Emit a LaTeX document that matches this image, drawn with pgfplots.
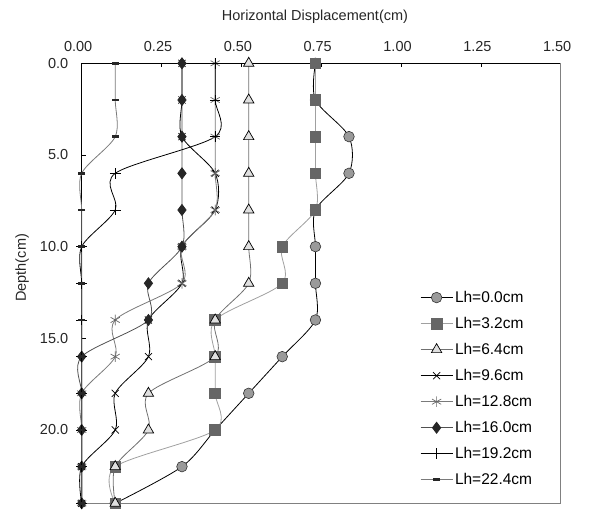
\documentclass[border=0pt]{standalone}
\usepackage{fontspec}
\setmainfont{Liberation Sans}
\usepackage{pgfplots}
\pgfplotsset{compat=1.18}
\definecolor{cfill}{HTML}{9A9A9A}
\definecolor{sfill}{HTML}{666666}
\definecolor{sline}{HTML}{A0A0A0}
\definecolor{tfill}{HTML}{E0E0E0}
\definecolor{tline}{HTML}{707070}
\definecolor{aline}{HTML}{7A7A7A}
\definecolor{dline}{HTML}{505050}
\definecolor{frame}{HTML}{808080}
\begin{document}
\begin{tikzpicture}
\begin{axis}[
  scale only axis, width=479pt, height=440pt,
  xmin=0, xmax=1.5, ymin=0, ymax=24,
  y dir=reverse, clip=false,
  axis line style={draw=none},
  xtick={0,0.25,0.5,0.75,1,1.25,1.5},
  xticklabels={0.00,0.25,0.50,0.75,1.00,1.25,1.50},
  ytick={0,5,10,15,20},
  yticklabels={0.0,5.0,10.0,15.0,20.0},
  xtick pos=right, ytick pos=left,
  xticklabel pos=right, yticklabel pos=left,
  tick align=inside, major tick length=4pt,
  tick style={black, line width=0.6pt},
  ticklabel style={font=\fontsize{14.5}{17}\selectfont, text=black!85},
  xticklabel style={xshift=-3.5pt, yshift=8pt},
  yticklabel style={xshift=-10pt},
  xlabel={Horizontal Displacement(cm)},
  ylabel={Depth(cm)},
  every axis x label/.style={at={(axis description cs:0.487,1.1052)}, anchor=center, font=\fontsize{14.5}{17}\selectfont, text=black!85},
  every axis y label/.style={at={(axis description cs:-0.1246,0.535)}, rotate=90, anchor=center, font=\fontsize{14.5}{17}\selectfont, text=black!85},
  every mark/.append style={solid},
  legend image code/.code={\draw[mark repeat=2,mark phase=2,#1] plot coordinates {(0pt,0pt) (16pt,0pt) (32pt,0pt)};},
  legend style={draw=none, fill=none, font=\fontsize{15.5}{18}\selectfont,
    at={(0.70,0.4916)}, anchor=north west, row sep=9.3pt,
    cells={anchor=west}},
]
\draw[black, line width=0.7pt] (axis cs:0,24) -- (axis cs:0,0) -- (axis cs:1.5,0);
\draw[frame, line width=0.7pt] (axis cs:1.5,0) -- (axis cs:1.5,24) -- (axis cs:0,24);
\coordinate (TL) at (axis cs:0,0);
\coordinate (BR) at (axis cs:1.5,24);

\addplot[smooth, tension=0.5, black, line width=0.8pt, mark=*, mark size=5.3pt, mark options={fill=cfill, draw=black!80, line width=0.6pt}]
coordinates {(0.732,0)(0.732,2)(0.837,4)(0.837,6)(0.732,8)(0.732,10)(0.732,12)(0.732,14)(0.628,16)(0.523,18)(0.418,20)(0.314,22)(0.105,24)};
\addlegendentry{Lh=0.0cm}

\addplot[smooth, tension=0.5, sline, line width=0.8pt, mark=square*, mark size=5.3pt, mark options={fill=sfill, draw=sfill}]
coordinates {(0.732,0)(0.732,2)(0.732,4)(0.732,6)(0.732,8)(0.628,10)(0.628,12)(0.418,14)(0.418,16)(0.418,18)(0.418,20)(0.105,22)(0.105,24)};
\addlegendentry{Lh=3.2cm}

\addplot[smooth, tension=0.5, tline, line width=0.8pt, mark=triangle*, mark size=6pt, mark options={fill=tfill, draw=black, line width=0.7pt}]
coordinates {(0.523,0)(0.523,2)(0.523,4)(0.523,6)(0.523,8)(0.523,10)(0.523,12)(0.418,14)(0.418,16)(0.209,18)(0.209,20)(0.105,22)(0.105,24)};
\addlegendentry{Lh=6.4cm}

\addplot[smooth, tension=0.5, black, line width=0.8pt, mark=x, mark size=5pt, mark options={black, line width=0.7pt}]
coordinates {(0.314,0)(0.314,2)(0.314,4)(0.418,6)(0.418,8)(0.314,10)(0.314,12)(0.209,14)(0.209,16)(0.105,18)(0.105,20)(0,22)(0,24)};
\addlegendentry{Lh=9.6cm}

\addplot[smooth, tension=0.5, aline, line width=0.8pt, mark=asterisk, mark size=5.3pt, mark options={draw=black!60, line width=0.7pt}]
coordinates {(0.418,0)(0.418,2)(0.418,4)(0.418,6)(0.418,8)(0.314,10)(0.314,12)(0.105,14)(0.105,16)(0,18)(0,20)(0,22)(0,24)};
\addlegendentry{Lh=12.8cm}

\addplot[smooth, tension=0.5, dline, line width=0.8pt, mark=diamond*, mark size=5.5pt, mark options={fill=black!85, draw=black!85}]
coordinates {(0.314,0)(0.314,2)(0.314,4)(0.314,6)(0.314,8)(0.314,10)(0.209,12)(0.209,14)(0,16)(0,18)(0,20)(0,22)(0,24)};
\addlegendentry{Lh=16.0cm}

\addplot[smooth, tension=0.5, black, line width=0.8pt, mark=+, mark size=5.3pt, mark options={black, line width=0.7pt}]
coordinates {(0.418,0)(0.418,2)(0.418,4)(0.105,6)(0.105,8)(0,10)(0,12)(0,14)(0,16)(0,18)(0,20)(0,22)(0,24)};
\addlegendentry{Lh=19.2cm}

\addplot[smooth, tension=0.5, aline, line width=0.8pt, mark=-, mark size=3.5pt, mark options={black!85, line width=2.6pt}]
coordinates {(0.105,0)(0.105,2)(0.105,4)(0,6)(0,8)(0,10)(0,12)(0,14)(0,16)(0,18)(0,20)(0,22)(0,24)};
\addlegendentry{Lh=22.4cm}
\end{axis}
\pgfresetboundingbox
\path[use as bounding box] ([shift={(-81.7pt,63.3pt)}]TL) rectangle ([shift={(47.3pt,-8.7pt)}]BR);
\end{tikzpicture}
\end{document}
